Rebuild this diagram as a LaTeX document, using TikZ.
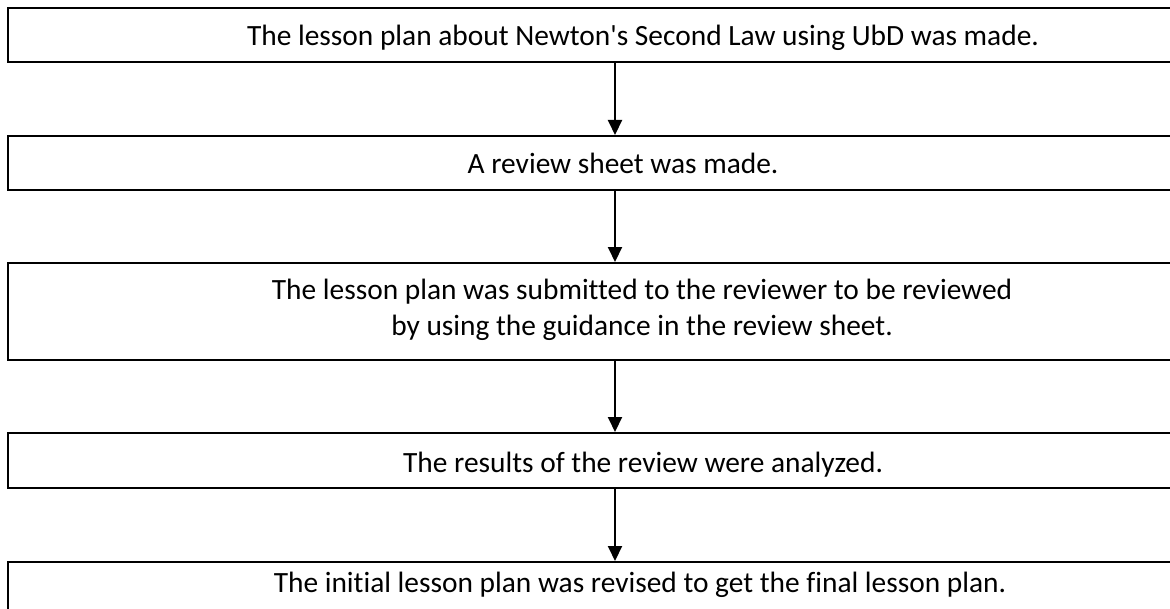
\documentclass[tikz,border=0pt]{standalone}
\usepackage{fontspec}
\setmainfont{Carlito}[Ligatures=NoCommon]
\usetikzlibrary{arrows.meta}
\tikzset{
  stepbox/.style={draw,line width=1pt,minimum width=607pt,inner sep=0pt},
  steptext/.style={anchor=base,inner sep=0pt,font=\fontsize{14.7}{18}\selectfont},
  flow/.style={line width=1pt,-{Triangle[width=7pt,length=7.5pt]}}
}
\begin{document}
\begin{tikzpicture}[x=0.5pt,y=-0.5pt]
  \useasboundingbox (0,0) rectangle (1170,609);
  \clip (0,0) rectangle (1170,609);
  % boxes run past the right edge
  \node[stepbox,minimum height=27pt] (b1) at (615,35) {};
  \node[stepbox,minimum height=27pt] (b2) at (615,163) {};
  \node[stepbox,minimum height=48.5pt] (b3) at (615,311.5) {};
  \node[stepbox,minimum height=27.5pt] (b4) at (615,460.5) {};
  \node[stepbox,minimum height=27pt] (b5) at (615,589) {};
  % texts
  \node[steptext] (t1) at (643,46) {The lesson plan about Newton\textquotesingle s Second Law using UbD was made.};
  \node[steptext] (t2) at (623,174) {A review sheet was made.};
  \node[steptext] (t3a) at (642,299) {The lesson plan was submitted to the reviewer to be reviewed};
  \node[steptext] (t3b) at (642,335) {by using the guidance in the review sheet.};
  \node[steptext] (t4) at (643,472) {The results of the review were analyzed.};
  \node[steptext] (t5) at (640,592) {The initial lesson plan was revised to get the final lesson plan.};
  % arrows
  \foreach \a/\b in {b1/b2,b2/b3,b3/b4,b4/b5}
    \draw[flow] (\a.south) -- (\b.north);
\end{tikzpicture}
\end{document}
